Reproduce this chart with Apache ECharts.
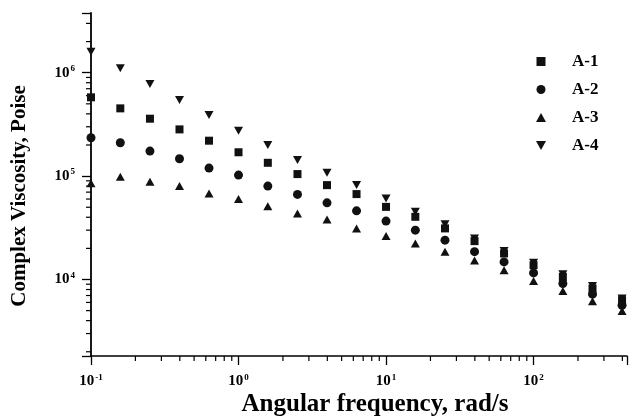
<!DOCTYPE html>
<html>
<head>
<meta charset="utf-8">
<script src="https://cdn.jsdelivr.net/npm/echarts@6/dist/echarts.min.js"></script>
<style>
  html, body { margin: 0; padding: 0; background: #fff; }
  #chart { width: 630px; height: 419px; }
</style>
</head>
<body>
<div id="chart"></div>
<script>
// angular frequency, rad/s
const freq = [0.1, 0.158, 0.251, 0.398, 0.631, 1, 1.58, 2.51, 3.98, 6.31, 10, 15.8, 25.1, 39.8, 63.1, 100, 158, 251, 398]
// complex viscosity, Poise
const a1 = [578000, 452000, 359000, 283000, 220000, 170000, 134500, 104600, 81800, 67000, 50400, 40400, 31200, 23500, 17850, 13750, 10600, 8180, 6300]
const a2 = [235000, 210000, 174600, 147100, 119500, 102300, 80000, 66500, 55100, 46100, 36700, 30000, 24000, 18580, 14800, 11580, 9150, 7210, 5640]
const a3 = [85500, 98400, 88100, 80000, 68000, 59900, 51200, 43500, 38100, 31200, 26300, 22300, 18500, 15270, 12300, 9690, 7760, 6160, 4970]
const a4 = [1597000, 1103000, 777000, 544000, 390000, 274500, 199600, 142800, 107600, 81800, 60800, 45100, 34300, 24900, 18910, 14480, 11250, 8670, 6550]
const seriesNames = ['A-1', 'A-2', 'A-3', 'A-4']

// minor tick values
const xMinor = [0.2, 0.3, 0.4, 0.5, 0.6, 0.7, 0.8, 0.9, 2, 3, 4, 5, 6, 7, 8, 9, 20, 30, 40, 50, 60, 70, 80, 90, 200, 300, 400]
const yMinor = [2000, 3000, 4000, 5000, 6000, 7000, 8000, 9000, 20000, 30000, 40000, 50000, 60000, 70000, 80000, 90000,
  200000, 300000, 400000, 500000, 600000, 700000, 800000, 900000, 2000000, 3000000]

const X_MIN = 0.1
const X_MAX = 430
const Y_MIN = 1820
const Y_MAX = 3780000

const FONT = 'Liberation Serif'
const square = 'path://M0,0 L10,0 L10,10 L0,10 Z'
const upTri = 'path://M5,0 L10,9 L0,9 Z'
const downTri = 'path://M0,0 L10,0 L5,9 Z'
const symbols = [square, 'circle', upTri, downTri]
const sizes = [8, 9, [9, 8], [9, 8]]

function pair(ys) {
  return freq.map((f, i) => [f, ys[i]])
}

function decadeLabel(v) {
  const e = Math.log10(v)
  const r = Math.round(e)
  if (Math.abs(e - r) > 1e-6) return ''
  return '{b|10}{s|' + r + '}'
}

const labelRich = {
  b: { fontFamily: FONT, fontWeight: 'bold', fontSize: 15, color: '#000' },
  s: { fontFamily: FONT, fontWeight: 'bold', fontSize: 9, color: '#000', padding: [0, 0, 8, 1] }
}

const chart = echarts.init(document.getElementById('chart'))

const scatter = [a1, a2, a3, a4].map((d, i) => ({
  name: seriesNames[i],
  type: 'scatter',
  data: pair(d),
  symbol: symbols[i],
  symbolSize: sizes[i],
  clip: false,
  itemStyle: { color: '#111', opacity: 1 }
}))

const option = {
  animation: false,
  backgroundColor: '#fff',
  grid: { left: 91, right: 0, top: 13, bottom: 63 },
  legend: {
    orient: 'vertical',
    left: 531,
    top: 48,
    itemWidth: 52,
    itemHeight: 9,
    itemGap: 11,
    data: seriesNames.map((n, i) => ({ name: n, icon: symbols[i] })),
    textStyle: { fontFamily: FONT, fontWeight: 'bold', fontSize: 17, color: '#000' },
    selectedMode: false
  },
  xAxis: {
    type: 'log',
    logBase: 10,
    min: X_MIN,
    max: X_MAX,
    axisLine: { lineStyle: { color: '#000', width: 1.5 } },
    axisTick: { length: 9, lineStyle: { color: '#000', width: 1.3 } },
    splitLine: { show: false },
    axisLabel: { formatter: decadeLabel, rich: labelRich, margin: 17, showMinLabel: true, showMaxLabel: true }
  },
  yAxis: {
    type: 'log',
    logBase: 10,
    min: Y_MIN,
    max: Y_MAX,
    axisLine: { show: true, lineStyle: { color: '#000', width: 1.8 } },
    axisTick: { show: true, length: 9, lineStyle: { color: '#000', width: 1.3 } },
    splitLine: { show: false },
    axisLabel: { formatter: decadeLabel, rich: labelRich, margin: 16, showMinLabel: true, showMaxLabel: true }
  },
  graphic: [
    {
      type: 'text',
      x: 375,
      y: 405,
      style: {
        text: 'Angular frequency, rad/s',
        font: 'bold 25px "' + FONT + '"',
        fill: '#000',
        align: 'center',
        verticalAlign: 'middle'
      }
    },
    {
      type: 'text',
      x: 20,
      y: 196,
      rotation: Math.PI / 2,
      style: {
        text: 'Complex Viscosity, Poise',
        font: 'bold 21px "' + FONT + '"',
        fill: '#000',
        align: 'center',
        verticalAlign: 'middle'
      }
    }
  ],
  series: scatter.concat([
    {
      type: 'custom',
      silent: true,
      clip: false,
      data: xMinor.map(v => [v, Y_MIN]),
      renderItem(params, api) {
        const p = api.coord([api.value(0), Y_MIN])
        return {
          type: 'line',
          shape: { x1: p[0], y1: p[1], x2: p[0], y2: p[1] + 5 },
          style: { stroke: '#000', lineWidth: 1.2 }
        }
      }
    },
    {
      type: 'custom',
      silent: true,
      clip: false,
      data: yMinor.map(v => [X_MIN, v]),
      renderItem(params, api) {
        const p = api.coord([X_MIN, api.value(1)])
        return {
          type: 'line',
          shape: { x1: p[0], y1: p[1], x2: p[0] - 5, y2: p[1] },
          style: { stroke: '#000', lineWidth: 1.2 }
        }
      }
    }
  ])
}

chart.setOption(option)
</script>
</body>
</html>
